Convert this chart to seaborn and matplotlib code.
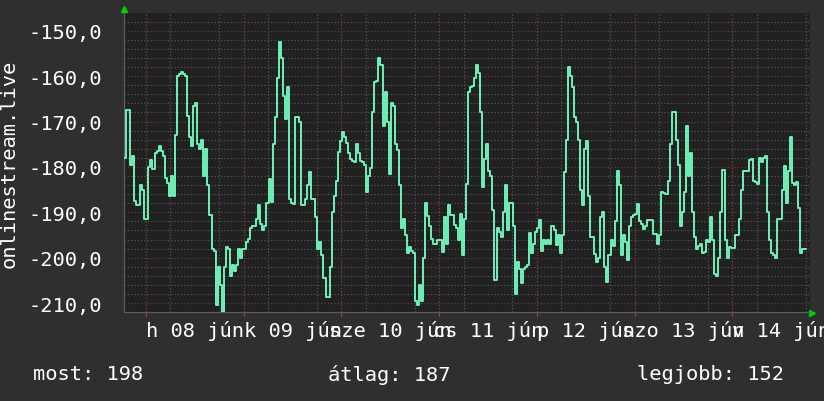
import matplotlib
matplotlib.use("Agg")
import matplotlib.pyplot as plt
import matplotlib.dates as mdates
from matplotlib.ticker import MultipleLocator, FuncFormatter
import seaborn as sns
import pandas as pd

# ping-ish values, one every 30 minutes
values = [
    -178, -167.5, -167.5, -179.5, -177.5, -187.5, -188.5, -188.5, -184, -185,
    -191.5, -191.5, -180, -178.5, -180.5, -177, -176.5, -175.5, -176.5, -177.5,
    -182.5, -183.5, -186.5, -182, -186.5, -173, -160, -159.5, -159, -159.5,
    -160, -168.7, -173.5, -175.5, -166.5, -166, -175, -176, -174, -182,
    -176, -184, -190.7, -198, -198.5, -210.5, -202, -206, -212, -202,
    -197.7, -198, -204, -201.7, -203, -201.5, -198, -200, -198, -198,
    -196.5, -195.8, -193.5, -193, -193, -191.5, -188.5, -192.5, -194, -193,
    -188, -182.6, -187.8, -175, -169, -160.5, -152.5, -156, -164.3, -169.5,
    -162.5, -187, -188, -188.2, -169, -169, -170, -188.5, -188.5, -187,
    -184, -181.2, -187, -187, -191, -198, -196.6, -199.5, -204.5, -208.7,
    -208.7, -202, -190, -186.3, -183, -176.8, -174.2, -172.4, -173.5, -174.8,
    -177, -178.2, -178.6, -179, -175, -177, -178.8, -179, -179.5, -185.5,
    -182, -180.3, -168, -161.4, -161, -156, -157.5, -171, -163.5, -170,
    -181.5, -166, -166.5, -175, -176.2, -184, -193.5, -191.5, -195, -199,
    -197.7, -198.5, -199, -209.5, -210.5, -206.1, -209.5, -200, -188, -190.8,
    -193, -195.9, -197, -197, -196, -196, -198.8, -191, -197, -188.5,
    -190.5, -190.5, -192.9, -193.5, -196, -190.4, -199.5, -191.5, -183.7, -163.5,
    -162.5, -162.1, -160.5, -157.5, -159.3, -168, -184.5, -178.2, -175, -181,
    -182, -189.6, -205, -193.5, -194.4, -195.5, -190, -184, -194, -188,
    -188, -193, -208, -201, -202.5, -205.5, -202.5, -202, -201.7, -194.5,
    -199, -197, -194.4, -193.5, -191.7, -198.5, -196, -197, -196, -197,
    -193, -194, -197.3, -195, -199, -195, -181.2, -174, -158, -160,
    -162.5, -169, -170, -174, -185, -188.5, -176, -174.2, -186.3, -195.5,
    -195.5, -199.2, -201, -200, -191, -190, -202, -205.4, -199.5, -196,
    -197.5, -192, -181, -184, -199.5, -195, -196.5, -200.5, -193, -191,
    -190.7, -190.3, -188.2, -192, -192.5, -193.7, -193, -191.8, -191.8, -191.8,
    -194.8, -194.8, -197, -195, -185.6, -185.8, -186, -183, -175, -168,
    -167.8, -174, -179.5, -193, -190, -185.6, -171, -182, -177, -190,
    -195.5, -198, -197.5, -197, -199, -198.8, -196, -196.5, -191, -196,
    -203.6, -204, -200, -190, -180.6, -196, -200, -197.7, -197.8, -197.8,
    -195, -195, -191.5, -185, -180.8, -180.8, -180.8, -178.5, -178.2, -183,
    -183.4, -183.8, -178, -179, -178, -177.5, -190, -196, -199, -199.5,
    -200, -191.5, -191.5, -185, -179.7, -188, -181, -173.5, -183.5, -184,
    -183.4, -189, -199, -198.1, -198.1, -198.1,
]
times = pd.date_range("2020-06-07 18:35", periods=len(values), freq="30min")

day_labels = ["h 08 jún", "k 09 jún", "sze 10 jún", "cs 11 jún",
              "p 12 jún", "szo 13 jún", "v 14 jún"]
day_noons = pd.date_range("2020-06-08 12:00", periods=len(day_labels), freq="D")
midnights = pd.date_range("2020-06-08", periods=7, freq="D")

summary_names = ["most", "átlag", "legjobb"]
summary_values = [198, 187, 152]

ylabel = "onlinestream.live"

bg = "#2f2f2f"
canvas = "#212121"
line_c = "#6ff2b8"
minor_c = "#5c5c5c"
major_c = "#7a3a3a"
txt = "#ffffff"
fs = 14.7

sns.set_theme(style="dark")
plt.rcParams["font.family"] = ["DejaVu Sans Mono"]

fig = plt.figure(figsize=(8.24, 4.02), dpi=100, facecolor=bg)
ax = fig.add_axes([124 / 824, 1 - 313 / 402, 686 / 824, 299 / 402])
ax.set_facecolor(canvas)

df = pd.DataFrame({"t": times, "v": values})
sns.lineplot(data=df, x="t", y="v", ax=ax, drawstyle="steps-post",
             color=line_c, linewidth=1.4, zorder=5)

ax.set_xlim(pd.Timestamp("2020-06-07 18:35"), pd.Timestamp("2020-06-14 19:05"))
ax.set_ylim(-211.96, -146.1)

# grid: minor gray dotted, major red dotted
ax.yaxis.set_minor_locator(MultipleLocator(2))
ax.yaxis.set_major_locator(MultipleLocator(10))
ax.yaxis.set_major_formatter(FuncFormatter(lambda v, p: f"{v:.1f}".replace(".", ",")))
ax.xaxis.set_minor_locator(mdates.HourLocator(byhour=[0, 6, 12, 18]))
ax.grid(False)
ax.grid(which="minor", color=minor_c, linestyle=(0, (1, 2)), linewidth=0.8)
ax.grid(which="major", axis="y", color=major_c, linestyle=(0, (1, 2)), linewidth=0.8)
for m in midnights:
    ax.axvline(m, color=major_c, linestyle=(0, (1, 2)), linewidth=0.8, zorder=1)
    ax.axvline(m, ymin=-0.015, ymax=0, color="#a04040", linewidth=0.8, clip_on=False)

ax.set_xticks(day_noons)
ax.set_xticklabels(day_labels)
ax.tick_params(axis="x", which="both", length=0, pad=6, labelsize=fs, colors=txt)
ax.tick_params(axis="y", which="both", length=0, pad=16, labelsize=fs, colors=txt)

ax.set_xlabel("")
ax.set_ylabel(ylabel, fontsize=fs, color=txt)
ax.yaxis.set_label_coords(-0.153, 0.5)

for side in ["top", "right"]:
    ax.spines[side].set_visible(False)
for side in ["bottom", "left"]:
    ax.spines[side].set_color("#606060")
    ax.spines[side].set_linewidth(0.8)

# rrdtool style arrows
ax.plot([0], [1.012], marker="^", color="#00d000", markersize=5,
        transform=ax.transAxes, clip_on=False)
ax.plot([1.003], [-0.005], marker=">", color="#00d000", markersize=5,
        transform=ax.transAxes, clip_on=False)

xs = [33 / 824, 328 / 824, 637 / 824]
for x, name, val in zip(xs, summary_names, summary_values):
    fig.text(x, 1 - 375 / 402, f"{name}: {val}", fontsize=fs, color=txt,
             ha="left", va="center")

fig.savefig("out.png", dpi=100, facecolor=bg)
